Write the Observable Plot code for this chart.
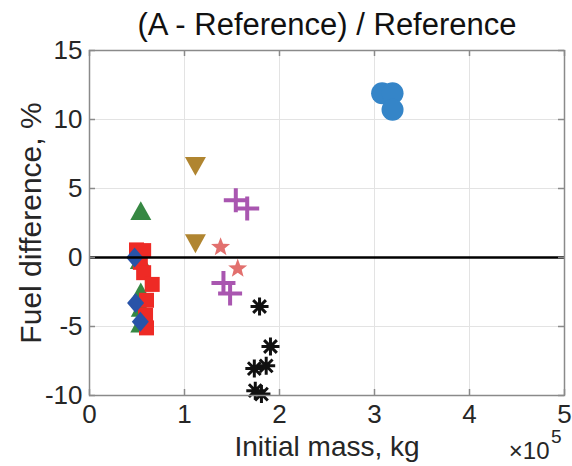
<!DOCTYPE html>
<html>
<head>
<meta charset="utf-8">
<script src="https://cdn.jsdelivr.net/npm/d3@7"></script>
<script src="https://cdn.jsdelivr.net/npm/@observablehq/plot@0.6"></script>
<style>
  body { margin: 0; background: #fff; }
  svg { display: block; }
</style>
</head>
<body>
<div id="chart"></div>
<script>
// Axis ticks
const xTicks = [0, 100000, 200000, 300000, 400000, 500000];
const yTicks = [-10, -5, 0, 5, 10, 15];

// Text
const titleText = "(A - Reference) / Reference";
const xLabel = "Initial mass, kg";
const yLabel = "Fuel difference, %";
const xExponentBase = "×10";
const xExponent = "5";

// Series: initial mass (kg) and fuel difference (%)
const triUpMass   = [54000, 53500, 54000, 54500, 54000];
const triUpDiff   = [3.4, -0.15, -2.5, -3.6, -4.75];

const squareMass  = [49500, 57000, 53500, 57000, 66000, 60000, 59000, 60000];
const squareDiff  = [0.55, 0.5, -0.35, -1.1, -1.95, -3.1, -4.2, -5.1];

const diamondMass = [47500, 48500, 53500];
const diamondDiff = [0.0, -3.3, -4.65];

const circleMass  = [308000, 319000, 319000];
const circleDiff  = [11.9, 11.9, 10.7];

const triDownMass = [111500, 111500];
const triDownDiff = [6.6, 1.0];

const starMass    = [138000, 156000];
const starDiff    = [0.75, -0.8];

const plusMass    = [154000, 166000, 141000, 148000];
const plusDiff    = [4.15, 3.55, -1.85, -2.6];

const asteriskMass = [179000, 190500, 173500, 186000, 174500, 181000];
const asteriskDiff = [-3.55, -6.45, -8.05, -7.85, -9.65, -9.9];

const rows = (mass, diff) => mass.map((m, i) => ({mass: m, diff: diff[i]}));

// Marker shapes (size = π r²)
const rad = size => Math.sqrt(size / Math.PI);
const triangleUp = {draw(c, size) { const r = rad(size), h = r * 0.9;
  c.moveTo(0, -h); c.lineTo(r, h); c.lineTo(-r, h); c.closePath(); }};
const triangleDown = {draw(c, size) { const r = rad(size), h = r * 0.9;
  c.moveTo(0, h); c.lineTo(r, -h); c.lineTo(-r, -h); c.closePath(); }};
const square = {draw(c, size) { const r = rad(size); c.rect(-r, -r, 2 * r, 2 * r); }};
const diamond = {draw(c, size) { const r = rad(size);
  c.moveTo(0, -r); c.lineTo(r * 0.85, 0); c.lineTo(0, r); c.lineTo(-r * 0.85, 0); c.closePath(); }};
const pentagram = {draw(c, size) { const R = rad(size), ri = R * 0.42;
  for (let i = 0; i < 10; i++) {
    const a = -Math.PI / 2 + i * Math.PI / 5, rr = i % 2 ? ri : R;
    const px = rr * Math.cos(a), py = rr * Math.sin(a);
    if (i) c.lineTo(px, py); else c.moveTo(px, py);
  }
  c.closePath(); }};
const plus = {draw(c, size) { const r = rad(size);
  c.moveTo(-r, 0); c.lineTo(r, 0); c.moveTo(0, -r); c.lineTo(0, r); }};
const asterisk = {draw(c, size) { const r = rad(size);
  for (let k = 0; k < 4; k++) {
    const a = k * Math.PI / 4, cx = r * Math.cos(a), cy = r * Math.sin(a);
    c.moveTo(-cx, -cy); c.lineTo(cx, cy);
  } }};

const frameColor = "#8a8a8a";
const gridColor = "#e3e3e3";
const textColor = "#262626";
const font = "Liberation Sans, Arial, Helvetica, sans-serif";
const W = 572, H = 466;
const mL = 89, mR = 8, mT = 50, mB = 71;
const frameW = W - mL - mR, frameH = H - mT - mB;
const tickLen = 6;
const centered = {textAnchor: "middle", lineAnchor: "middle"};

const chart = Plot.plot({
  width: W, height: H,
  marginLeft: mL, marginRight: mR, marginTop: mT, marginBottom: mB,
  style: {fontFamily: font, background: "#fff", color: textColor},
  x: {domain: [0, 500000]},
  y: {domain: [-10, 15]},
  marks: [
    Plot.gridX(xTicks.slice(1, -1), {stroke: gridColor, strokeOpacity: 1}),
    Plot.gridY(yTicks.slice(1, -1), {stroke: gridColor, strokeOpacity: 1}),

    Plot.dot(rows(triUpMass, triUpDiff), {x: "mass", y: "diff", symbol: triangleUp, r: 10.5, fill: "#368843", stroke: "none"}),
    Plot.dot(rows(squareMass, squareDiff), {x: "mass", y: "diff", symbol: square, r: 7.5, fill: "#ee2a25", stroke: "none"}),
    Plot.dot(rows(diamondMass, diamondDiff), {x: "mass", y: "diff", symbol: diamond, r: 10, fill: "#2953a8", stroke: "none"}),
    Plot.dot(rows(circleMass, circleDiff), {x: "mass", y: "diff", symbol: "circle", r: 11, fill: "#3585c8", stroke: "none"}),
    Plot.dot(rows(triDownMass, triDownDiff), {x: "mass", y: "diff", symbol: triangleDown, r: 10.5, fill: "#b08530", stroke: "none"}),
    Plot.dot(rows(starMass, starDiff), {x: "mass", y: "diff", symbol: pentagram, r: 10, fill: "#e2706e", stroke: "none"}),
    Plot.dot(rows(plusMass, plusDiff), {x: "mass", y: "diff", symbol: plus, r: 12, fill: "none", stroke: "#a956b0", strokeWidth: 4}),
    Plot.dot(rows(asteriskMass, asteriskDiff), {x: "mass", y: "diff", symbol: asterisk, r: 9, fill: "none", stroke: "#111", strokeWidth: 3}),

    Plot.ruleY([0], {stroke: "#000", strokeWidth: 2.5}),

    Plot.frame({stroke: frameColor, strokeWidth: 1.5}),
    // inward tick marks on all four sides
    Plot.ruleX(xTicks, {stroke: frameColor, strokeWidth: 1.5, insetTop: frameH - tickLen}),
    Plot.ruleX(xTicks, {stroke: frameColor, strokeWidth: 1.5, insetBottom: frameH - tickLen}),
    Plot.ruleY(yTicks, {stroke: frameColor, strokeWidth: 1.5, insetRight: frameW - tickLen}),
    Plot.ruleY(yTicks, {stroke: frameColor, strokeWidth: 1.5, insetLeft: frameW - tickLen}),

    Plot.axisX(xTicks, {anchor: "bottom", tickSize: 0, tickPadding: 9, fontSize: 26, fill: textColor,
      tickFormat: d => String(d / 100000), label: null}),
    Plot.axisY(yTicks, {anchor: "left", tickSize: 0, tickPadding: 7, fontSize: 26, fill: textColor,
      tickFormat: d => String(d), label: null}),

    Plot.text([titleText], {text: d => d, frameAnchor: "top", ...centered, dy: -25, fontSize: 31, fill: "#111"}),
    Plot.text([xLabel], {text: d => d, frameAnchor: "bottom", ...centered, dy: 52, fontSize: 28, fill: textColor}),
    Plot.text([yLabel], {text: d => d, frameAnchor: "left", ...centered, rotate: -90, dx: -58, fontSize: 30, fill: textColor}),
    Plot.text([xExponentBase], {text: d => d, frameAnchor: "bottom-right", textAnchor: "end", lineAnchor: "middle", dx: -15, dy: 56, fontSize: 24, fill: textColor}),
    Plot.text([xExponent], {text: d => d, frameAnchor: "bottom-right", textAnchor: "end", lineAnchor: "middle", dx: -3, dy: 41, fontSize: 19, fill: textColor})
  ]
});

document.getElementById("chart").append(chart);
</script>
</body>
</html>
